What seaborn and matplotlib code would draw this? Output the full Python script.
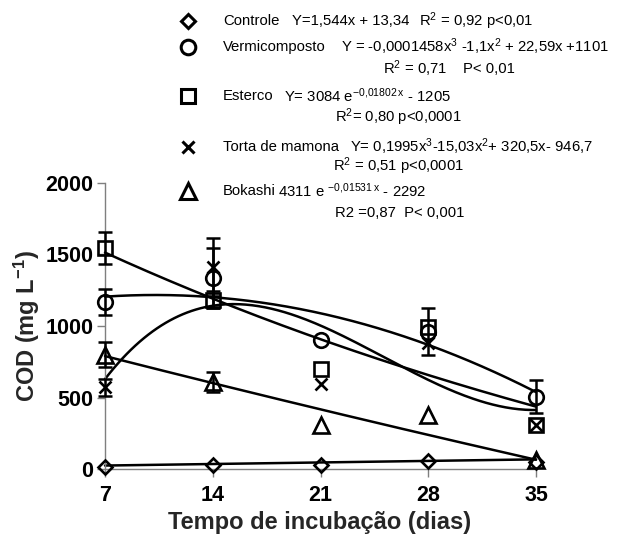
import numpy as np
import pandas as pd
import matplotlib
matplotlib.use("Agg")
import matplotlib.pyplot as plt
import seaborn as sns

# Incubation days and measured COD (mg/L) per treatment
days = [7, 14, 21, 28, 35]
controle = [15, 25, 30, 55, 50]
vermicomposto = [1170, 1335, 900, 960, 505]
esterco = [1545, 1185, 700, 990, 308]
torta = [570, 1413, 595, 880, 305]
bokashi = [800, 605, 305, 378, 62]

# Standard deviations (0 = no bar shown)
vermicomposto_err = [90, 210, 0, 165, 115]
esterco_err = [112, 60, 0, 0, 0]
torta_err = [60, 200, 0, 0, 0]
bokashi_err = [90, 70, 0, 0, 0]

# Regression coefficients
controle_lin = (1.544, 13.34)
vermi_cubic = (-0.0001458, -1.1, 22.59, 1101)
esterco_exp = (3084, 0.01802, 1205)
torta_cubic = (0.1995, -15.03, 320.5, -946.7)
bokashi_exp = (7037, 0.004, 6053)

sns.set_theme(style="ticks")
plt.rcParams["font.family"] = ["Liberation Sans", "DejaVu Sans"]
plt.rcParams["mathtext.default"] = "regular"

W, H = 620, 543
fig = plt.figure(figsize=(W / 100, H / 100), dpi=100)
ax = fig.add_axes([105 / W, 1 - 469 / H, 431 / W, 286 / H])

xs = np.linspace(7, 35, 200)
curves = {
    "Controle": controle_lin[0] * xs + controle_lin[1],
    "Vermicomposto": np.polyval(vermi_cubic, xs),
    "Esterco": esterco_exp[0] * np.exp(-esterco_exp[1] * xs) - esterco_exp[2],
    "Torta de mamona": np.polyval(torta_cubic, xs),
    "Bokashi": bokashi_exp[0] * np.exp(-bokashi_exp[1] * xs) - bokashi_exp[2],
}
fit_df = pd.concat(
    [pd.DataFrame({"dia": xs, "cod": v, "serie": k}) for k, v in curves.items()],
    ignore_index=True,
)
sns.lineplot(data=fit_df, x="dia", y="cod", units="serie", estimator=None,
             color="black", linewidth=1.8, ax=ax, legend=False, clip_on=False)

series = [
    ("Controle", controle, None, "D", 6.8),
    ("Vermicomposto", vermicomposto, vermicomposto_err, "o", 10.5),
    ("Esterco", esterco, esterco_err, "s", 9.5),
    ("Torta de mamona", torta, torta_err, "x", 9.0),
    ("Bokashi", bokashi, bokashi_err, "^", 11.0),
]
for name, vals, err, mk, ms in series:
    d = np.array(days, float)
    v = np.array(vals, float)
    if err is not None:
        e = np.array(err, float)
        m = e > 0
        ax.errorbar(d[m], v[m], yerr=e[m], fmt="none", ecolor="black",
                    elinewidth=1.8, capsize=5, capthick=1.8, clip_on=False, zorder=3)
    ax.plot(d, v, linestyle="none", marker=mk, markersize=ms,
            markerfacecolor="none", markeredgecolor="black",
            markeredgewidth=1.9, clip_on=False, zorder=4)

ax.set_xlim(7, 35)
ax.set_ylim(0, 2000)
ax.set_xticks(days)
ax.set_yticks([0, 500, 1000, 1500, 2000])
for s in ("top", "right"):
    ax.spines[s].set_visible(False)
for s in ("left", "bottom"):
    ax.spines[s].set_color("#7f7f7f")
    ax.spines[s].set_linewidth(1.0)
ax.tick_params(axis="both", direction="out", length=5.5, width=1.0,
               color="#7f7f7f", labelsize=15.5, labelcolor="black")
ax.tick_params(axis="x", pad=6)
ax.tick_params(axis="y", pad=3)
for lab in ax.get_xticklabels() + ax.get_yticklabels():
    lab.set_fontweight("bold")
ax.set_xlabel("")
ax.set_ylabel("")
ax.set_facecolor("white")

fig.text(320 / W, 1 - 522 / H, "Tempo de incubação (dias)", ha="center",
         va="center", fontsize=17, fontweight="bold")
fig.text(27 / W, 1 - 326 / H, "COD (mg L$^{-1}$)", ha="center", va="center",
         rotation=90, fontsize=17, fontweight="bold")

# Legend with the regression equations
lax = fig.add_axes([0, 0, 1, 1], zorder=5)
lax.set_xlim(0, W)
lax.set_ylim(H, 0)
lax.axis("off")
lax.patch.set_alpha(0)

leg_marks = [("D", 6.8, 21), ("o", 10.5, 47), ("s", 9.5, 96), ("x", 9.0, 147), ("^", 11.0, 191)]
for mk, ms, yy in leg_marks:
    lax.plot([188], [yy], linestyle="none", marker=mk, markersize=ms,
             markerfacecolor="none", markeredgecolor="black", markeredgewidth=2.2)

fs = 10.7
texts = [
    (223, 21, "Controle"),
    (292, 21, "Y=1,544x + 13,34"),
    (419, 21, "R$^{2}$ = 0,92 p<0,01"),
    (223, 47, "Vermicomposto"),
    (341, 47, "Y = -0,0001458x$^{3}$ -1,1x$^{2}$ + 22,59x +1101"),
    (383, 69, "R$^{2}$ = 0,71"),
    (463, 69, "P< 0,01"),
    (223, 96, "Esterco"),
    (284, 96, "Y= 3084 e$^{-0{,}01802\\,x}$ - 1205"),
    (335, 117, "R$^{2}$= 0,80 p<0,0001"),
    (223, 147, "Torta de mamona"),
    (350, 147, "Y= 0,1995x$^{3}$-15,03x$^{2}$+ 320,5x- 946,7"),
    (333, 166, "R$^{2}$ = 0,51 p<0,0001"),
    (223, 191, "Bokashi"),
    (278, 191, "4311 e $^{-0{,}01531\\,x}$ - 2292"),
    (335, 213, "R2 =0,87  P< 0,001"),
]
for xx, yy, t in texts:
    lax.text(xx, yy, t, ha="left", va="center", fontsize=fs, color="black")

fig.savefig("out.png", dpi=100, facecolor="white")
